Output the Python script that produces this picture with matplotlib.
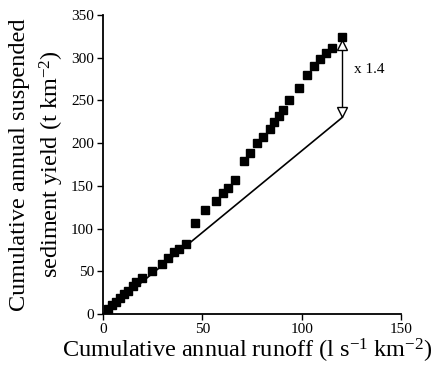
import matplotlib
matplotlib.use("Agg")
import matplotlib.pyplot as plt

# Observed cumulative data (squares)
runoff = [2.5, 4.5, 6.5, 8.5, 10.5, 12.6, 15.2, 16.8, 19.4, 24.9, 29.5, 32.8,
          35.7, 38.4, 41.6, 46.5, 51.5, 56.9, 60.3, 63.1, 66.2, 71.2, 74.2,
          77.6, 80.5, 84.2, 85.9, 88.4, 90.6, 93.8, 98.8, 102.9, 106.4, 109.4,
          112.3, 115.3, 120.4]
sediment = [6, 10, 14, 19, 23, 27, 33, 38, 41.6, 50.6, 59.1, 65.7,
            72.0, 76.6, 82.5, 106.6, 122.1, 131.9, 141.6, 147.4, 156.4, 178.9,
            188.6, 199.9, 207.7, 216.6, 225.2, 232.2, 238.8, 250.5, 264.1,
            280.0, 289.8, 298.3, 306.1, 310.8, 324.4]

# Reference line
line_x = [0, 43, 120.4]
line_y = [0, 82, 230]

# Arrow
arrow_x = 120.4
arrow_top = 315
arrow_bottom = 236
ratio_label = "x 1.4"

xticks = [0, 50, 100, 150]
yticks = [0, 50, 100, 150, 200, 250, 300, 350]

plt.rcParams['font.family'] = ['Liberation Serif', 'DejaVu Serif']
plt.rcParams['mathtext.fontset'] = 'custom'
plt.rcParams['mathtext.rm'] = 'Liberation Serif'
plt.rcParams['mathtext.it'] = 'Liberation Serif:italic'

fig = plt.figure(figsize=(4.38, 3.69), dpi=100)
ax = fig.add_axes([103/438, 55/369, 298/438, 299/369])

ax.plot(line_x, line_y, color='black', lw=1.2, zorder=2)
ax.plot(runoff, sediment, linestyle='none', marker='s', markersize=5.3,
        color='black', zorder=3)

ax.plot([arrow_x, arrow_x], [arrow_top - 4, arrow_bottom + 4], color='black', lw=1.0, zorder=2)
ax.plot([arrow_x], [arrow_top], marker='^', markersize=7.5, markerfacecolor='white',
        markeredgecolor='black', markeredgewidth=1.0, linestyle='none', zorder=4)
ax.plot([arrow_x], [arrow_bottom], marker='v', markersize=7.5, markerfacecolor='white',
        markeredgecolor='black', markeredgewidth=1.0, linestyle='none', zorder=4)
ax.text(126.5, 286, ratio_label, fontsize=11, va='center', ha='left')

ax.set_xlim(0, 150)
ax.set_ylim(0, 350)
ax.set_xticks(xticks)
ax.set_yticks(yticks)
ax.tick_params(direction='out', length=4.5, width=1.0, labelsize=11, pad=2)

for s in ['top', 'right']:
    ax.spines[s].set_visible(False)
for s in ['left', 'bottom']:
    ax.spines[s].set_linewidth(1.3)

ax.set_xlabel("Cumulative annual runoff (l s$^{\\mathrm{-1}}$ km$^{\\mathrm{-2}}$)", fontsize=17.5, labelpad=0)
ax.xaxis.set_label_coords(0.485, -0.075)
ax.set_ylabel("Cumulative annual suspended\nsediment yield (t km$^{\\mathrm{-2}}$)", fontsize=17.5,
              labelpad=4, linespacing=1.35)

fig.savefig("out.png", dpi=100)
